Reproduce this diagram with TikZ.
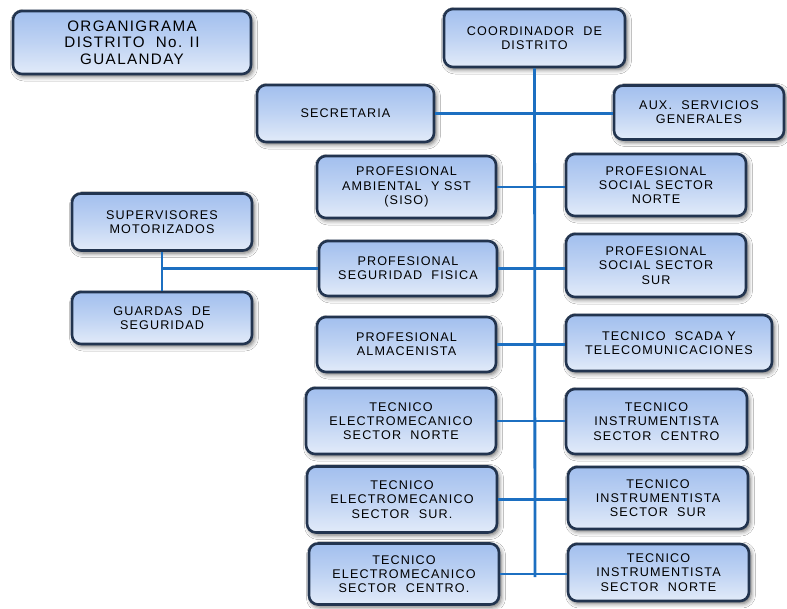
\documentclass[tikz,border=0pt]{standalone}
\usepackage{fontspec}
\setmainfont{Liberation Sans}[LetterSpace=9]
\usetikzlibrary{shadows.blur}
\definecolor{boxtop}{HTML}{A2BFEE}
\definecolor{boxbot}{HTML}{E2EBF9}
\definecolor{boxedge}{HTML}{22344F}
\definecolor{linkblue}{HTML}{1C6FC1}
\tikzset{
  orgbox/.style={rounded corners=9pt, draw=boxedge, line width=2.6pt,
    top color=boxtop, bottom color=boxbot, middle color=boxtop!55!boxbot,
    blur shadow={shadow xshift=2pt, shadow yshift=-2.5pt, shadow blur radius=4.5pt, shadow opacity=60},
    align=center, inner sep=0pt, text=black,
    font=\fontsize{12.6}{14.3}\selectfont},
  titlebox/.style={orgbox, font=\fontsize{15.2}{16.7}\selectfont},
  link/.style={draw=linkblue, line width=2.8pt}
}
\begin{document}
\begin{tikzpicture}[x=1pt,y=-1pt]
\useasboundingbox[fill=white] (0,0) rectangle (787,608);

% end of the main vertical trunk
\coordinate (trunkend) at (535,577);

% boxes
\node[titlebox, minimum width=238pt, minimum height=63pt] (org) at (132,42.5) {ORGANIGRAMA\\DISTRITO~ No. II\\GUALANDAY};
\node[orgbox, minimum width=181pt, minimum height=58pt] (coord) at (534.5,38) {COORDINADOR~ DE\\DISTRITO};
\node[orgbox, minimum width=177pt, minimum height=57pt] (sec) at (345.5,113.5) {SECRETARIA};
\node[orgbox, minimum width=170pt, minimum height=54pt] (aux) at (699,112.5) {AUX.~ SERVICIOS\\GENERALES};
\node[orgbox, minimum width=179pt, minimum height=62pt] (amb) at (406.5,187) {PROFESIONAL\\AMBIENTAL~ Y SST\\(SISO)};
\node[orgbox, minimum width=180pt, minimum height=62pt] (socn) at (656,185) {PROFESIONAL\\SOCIAL SECTOR\\NORTE};
\node[orgbox, minimum width=180pt, minimum height=57pt] (sup) at (162,222) {SUPERVISORES\\MOTORIZADOS};
\node[orgbox, minimum width=178pt, minimum height=55pt] (seg) at (408,268.5) {PROFESIONAL\\SEGURIDAD~ FISICA};
\node[orgbox, minimum width=180pt, minimum height=63pt] (socs) at (656,265.5) {PROFESIONAL\\SOCIAL SECTOR\\SUR};
\node[orgbox, minimum width=180pt, minimum height=52pt] (guard) at (162,318) {GUARDAS~ DE\\SEGURIDAD};
\node[orgbox, minimum width=179pt, minimum height=55pt] (alm) at (406.5,344.5) {PROFESIONAL\\ALMACENISTA};
\node[orgbox, minimum width=206pt, minimum height=56pt] (scada) at (669,343) {TECNICO~ SCADA Y\\TELECOMUNICACIONES};
\node[orgbox, minimum width=190pt, minimum height=66pt] (en) at (401,421) {TECNICO\\ELECTROMECANICO\\SECTOR~ NORTE};
\node[orgbox, minimum width=181pt, minimum height=65pt] (ic) at (656.5,421.5) {TECNICO\\INSTRUMENTISTA\\SECTOR~ CENTRO};
\node[orgbox, minimum width=190pt, minimum height=66pt] (es) at (402,499.5) {TECNICO\\ELECTROMECANICO\\SECTOR~ SUR.};
\node[orgbox, minimum width=180pt, minimum height=62pt] (is) at (658,498) {TECNICO\\INSTRUMENTISTA\\SECTOR~ SUR};
\node[orgbox, minimum width=190pt, minimum height=61pt] (ec) at (404,574) {TECNICO\\ELECTROMECANICO\\SECTOR~ CENTRO.};
\node[orgbox, minimum width=181pt, minimum height=57pt] (in) at (658.5,572.5) {TECNICO\\INSTRUMENTISTA\\SECTOR~ NORTE};

% connectors
\draw[link] (coord.south) -- (trunkend);
\draw[link] (sec.east) -- (sec.east -| aux.west);
\draw[link] (amb.east) -- (amb.east -| socn.west);
\draw[link] (seg.east) -- (seg.east -| socs.west);
\draw[link] (alm.east) -- (alm.east -| scada.west);
\draw[link] (en.east) -- (en.east -| ic.west);
\draw[link] (es.east) -- (es.east -| is.west);
\draw[link] (ec.east) -- (ec.east -| in.west);
\draw[link] (sup.south) -- (guard.north);
\draw[link] (seg.west) -- (seg.west -| sup.south);
\end{tikzpicture}
\end{document}
